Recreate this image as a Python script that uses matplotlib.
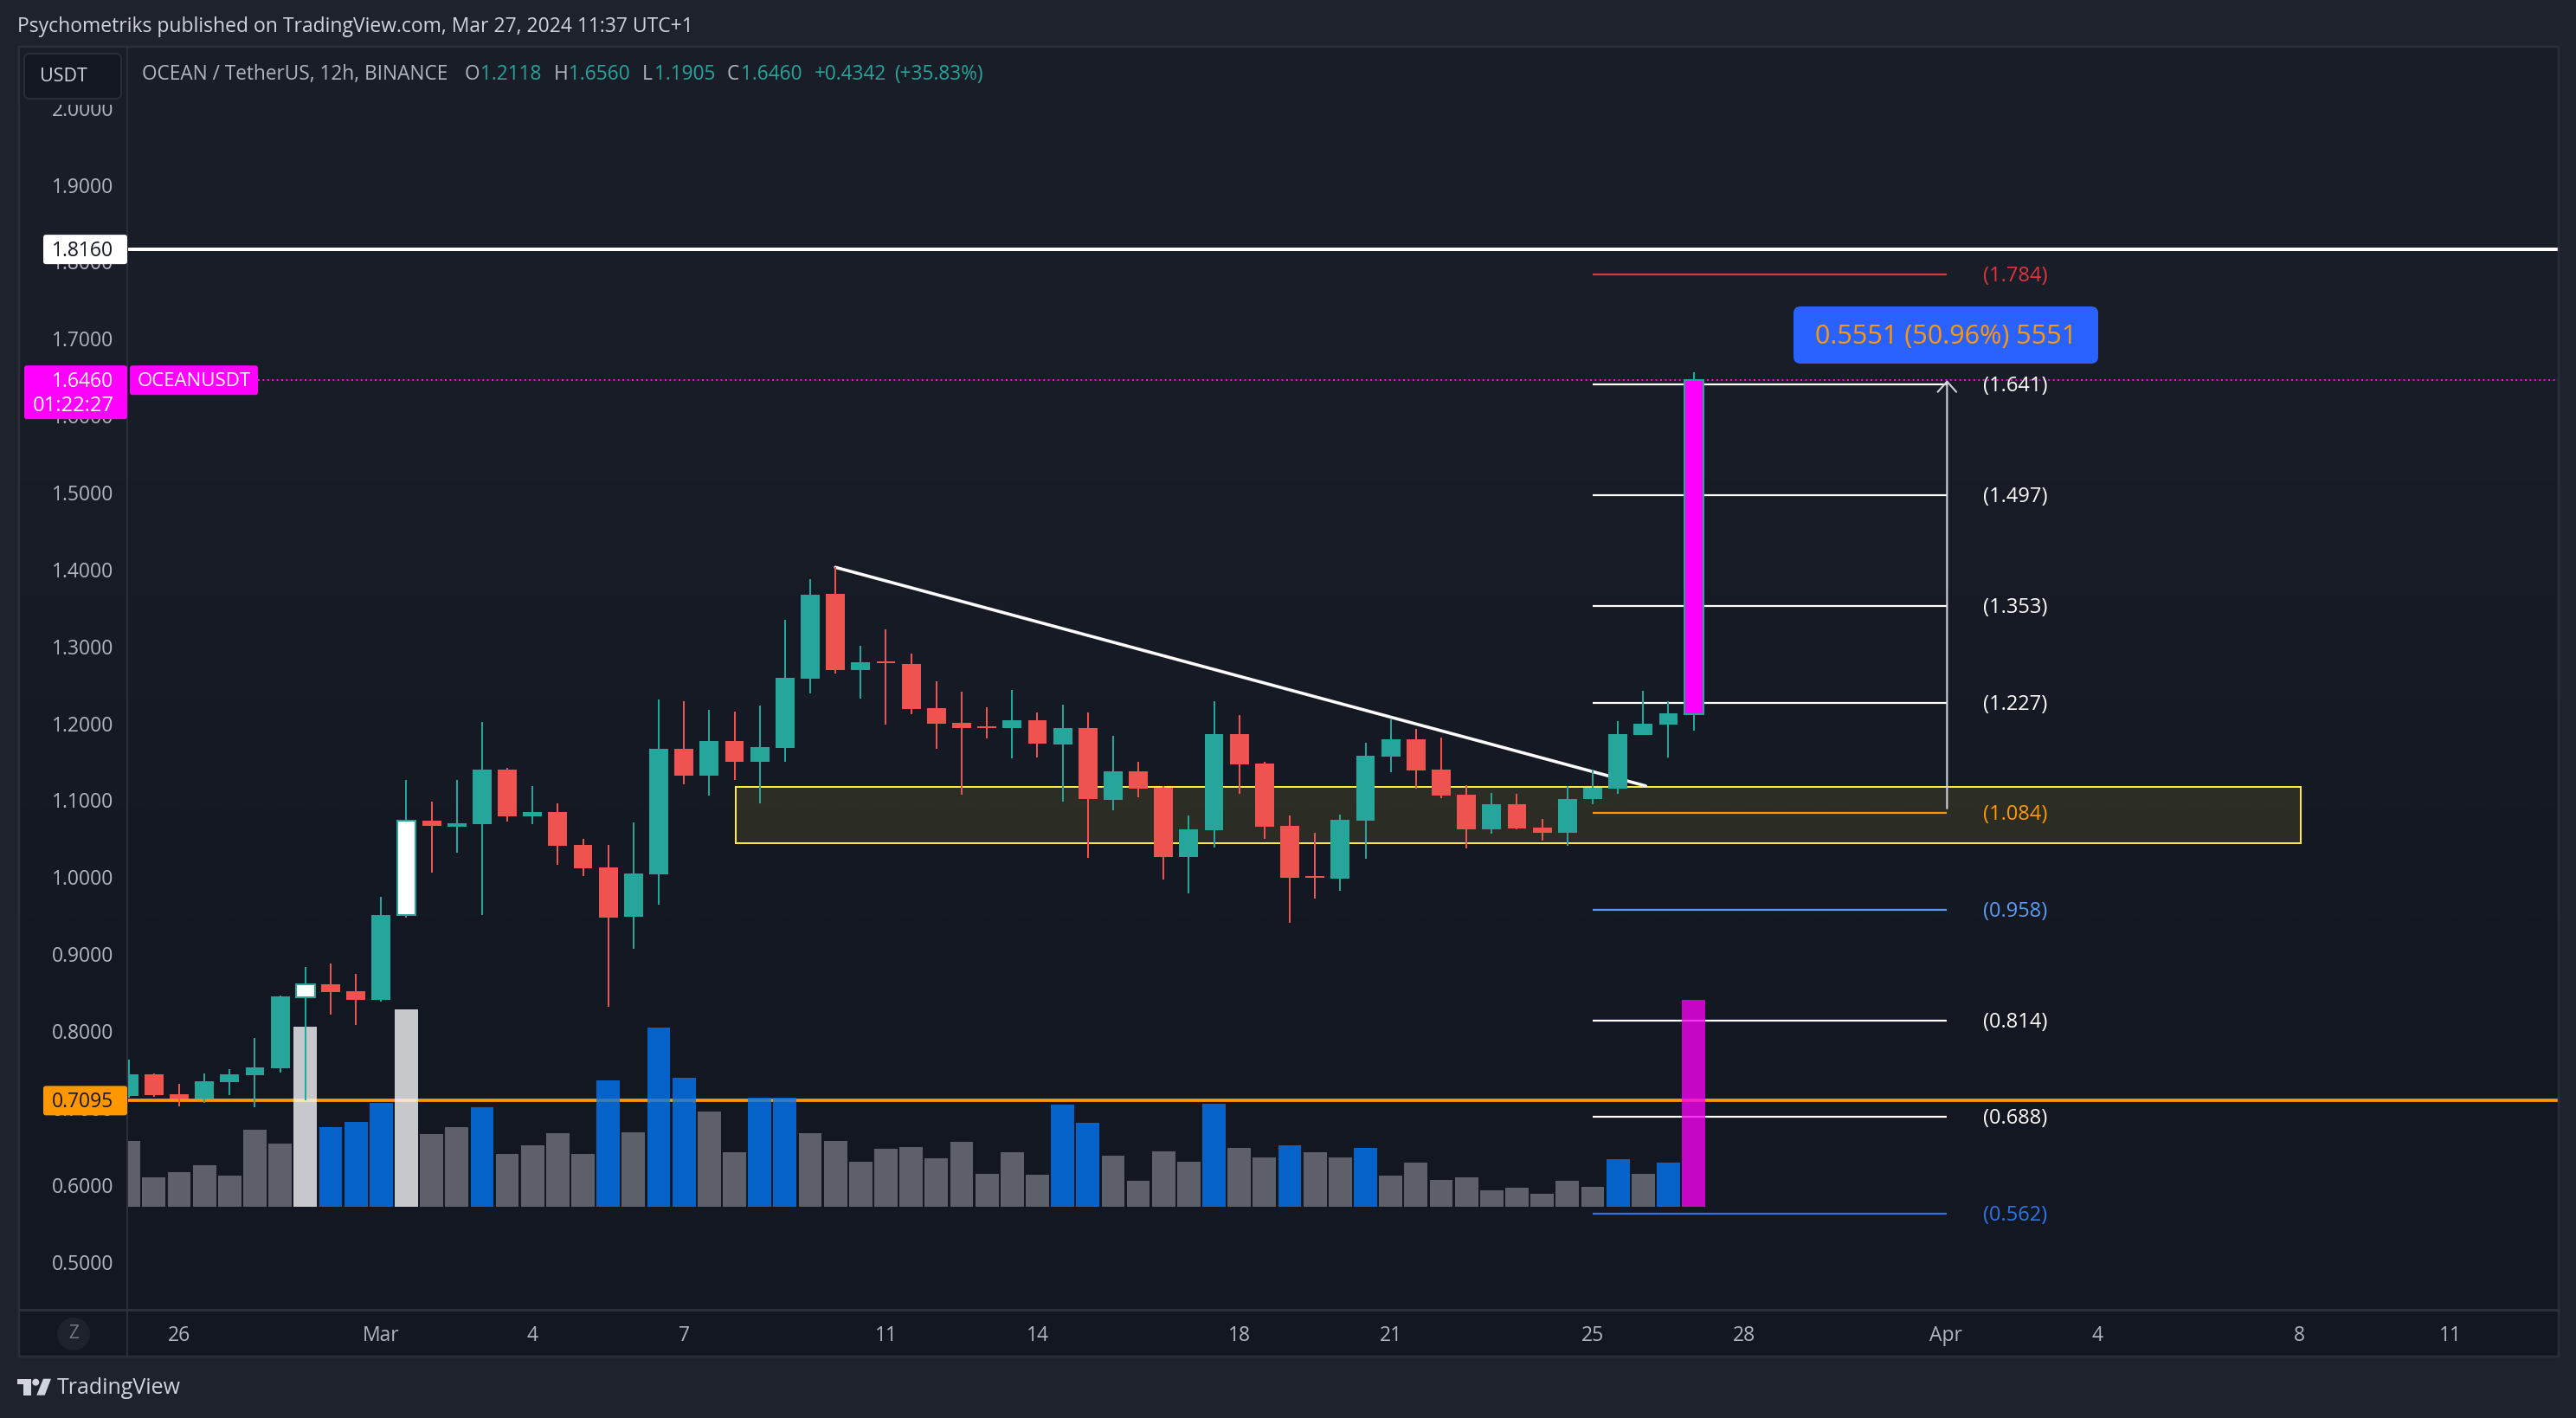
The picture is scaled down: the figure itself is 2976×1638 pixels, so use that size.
import numpy as np
import matplotlib
matplotlib.use("Agg")
import matplotlib.pyplot as plt
from matplotlib.patches import FancyBboxPatch, Rectangle, Polygon, Circle
from matplotlib.colors import LinearSegmentedColormap

plt.rcParams['font.family'] = ['Open Sans', 'DejaVu Sans']

# ---------- data (bar index 0 = 26 Feb 2024, 12h bars) ----------
bar_index = list(range(-2, 61))
opens = [.7154,.7436,.7178,.7120,.7336,.7425,.7514,.8437,.8606,.8518,.8406,.9504,1.0734,1.0656,1.0689,1.1398,1.0790,
         1.0847,1.0419,1.0127,.9485,1.0037,1.1668,1.1319,1.1770,1.1500,1.1680,1.2580,1.3683,1.2692,1.2805,1.2771,1.2197,
         1.2006,1.1961,1.1938,1.2040,1.1725,1.1938,1.1004,1.1376,1.1162,1.0262,1.0611,1.1860,1.1477,1.0667,1.0014,.9980,
         1.0734,1.1567,1.1792,1.1397,1.1070,1.0622,1.0949,1.0643,1.0575,1.1014,1.1152,1.1849,1.1983,1.2118]
highs = [.7629,.7448,.7313,.7448,.7506,.7907,.8460,.8830,.8877,.8742,.9744,1.1263,1.0982,1.1263,1.2017,1.1421,1.1184,
         1.0959,1.0498,1.0419,1.0712,1.2310,1.2287,1.2175,1.2152,1.2231,1.3345,1.3874,1.4028,1.3007,1.3221,1.2906,1.2546,
         1.2411,1.2208,1.2433,1.2141,1.2242,1.2141,1.1837,1.1500,1.1184,1.0802,1.2287,1.2107,1.1500,1.0802,1.0577,1.0813,
         1.1747,1.2051,1.1927,1.1819,1.1195,1.1096,1.1083,1.0755,1.1182,1.1393,1.2026,1.2422,1.2288,1.6560]
lows = [.7131,.7143,.7019,.7066,.7166,.7008,.7459,.7100,.8213,.8077,.8382,.9478,1.0063,1.0322,.9511,1.0723,1.0689,
        1.0160,1.0014,.8317,.9069,.9643,1.1207,1.1060,1.1263,1.0959,1.1500,1.2388,1.2647,1.2321,1.1983,1.2118,1.1668,
        1.1072,1.1803,1.1544,1.1556,1.0982,1.0250,1.0869,1.1038,.9969,.9789,1.0385,1.1083,1.0498,.9406,.9721,.9823,
        1.0239,1.1365,1.1151,1.1027,1.0372,1.0566,1.0622,1.0475,1.0411,1.0949,1.1083,1.1849,1.1557,1.1905]
closes = [.7436,.7166,.7120,.7347,.7436,.7525,.8448,.8606,.8506,.8406,.9508,1.0731,1.0670,1.0701,1.1398,1.0790,1.0847,
          1.0408,1.0115,.9474,1.0048,1.1668,1.1319,1.1770,1.1500,1.1691,1.2591,1.3671,1.2692,1.2794,1.2782,1.2186,1.1995,
          1.1938,1.1938,1.2040,1.1736,1.1938,1.1016,1.1376,1.1151,1.0262,1.0622,1.1860,1.1466,1.0656,.9991,.9991,1.0745,
          1.1578,1.1792,1.1387,1.1061,1.0622,1.0949,1.0630,1.0575,1.1014,1.1160,1.1858,1.1996,1.2129,1.6460]
special_bodies = {5: '#ffffff', 9: '#ffffff', 60: '#ff00ff'}

volumes = [76.2,34.0,40.2,48.0,36.0,89.2,73.1,208.0,92.0,98.1,120.1,228.2,84.1,92.0,115.0,61.1,71.0,85.1,61.1,146.2,
           86.1,206.9,148.9,110.2,63.1,126.0,126.0,85.1,76.2,52.2,66.9,69.0,55.9,75.2,38.1,63.1,37.1,118.1,97.1,59.0,
           30.2,64.2,52.2,119.1,67.9,57.0,71.0,63.1,57.0,67.9,36.0,51.1,30.9,34.0,19.2,22.0,15.1,30.2,23.0,54.9,38.1,51.1,239.2]
volume_white = [5, 9]
volume_blue = [6, 7, 8, 12, 17, 19, 20, 23, 24, 35, 36, 41, 44, 47, 57, 59]
volume_magenta = [60]
VOL_BASE = 0.5715
VOL_SCALE = 1 / 888.6

price_ticks = [2.0, 1.9, 1.8, 1.7, 1.6, 1.5, 1.4, 1.3, 1.2, 1.1, 1.0, 0.9, 0.8, 0.7, 0.6, 0.5]
date_pos = [0, 8, 14, 20, 28, 34, 42, 48, 56, 62, 70, 76, 84, 90]
date_labels = ['26', 'Mar', '4', '7', '11', '14', '18', '21', '25', '28', 'Apr', '4', '8', '11']

fib_levels = [1.784, 1.641, 1.497, 1.353, 1.227, 1.084, 0.958, 0.814, 0.688, 0.562]
fib_colors = ['#e0343f', '#ffffff', '#ffffff', '#ffffff', '#ffffff', '#ff9800', '#5b9cf6', '#ffffff', '#ffffff', '#2f75e8']
fib_x = (56, 70.04)
fib_label_x = 72.74

resistance = 1.8160
support = 0.7095
last_close = 1.6460
zone_x = (22.04, 84.05)
zone_y = (1.0445, 1.1177)
trend_x = [26, 58.1]
trend_y = [1.4028, 1.1186]
measure_x = 70.04
measure_y = (1.0893, 1.6460)

# ---------- layout ----------
W, H = 2976, 1638
DPI = 100
PX_PER_UNIT = 888.6
BAR_PX = 29.16
def py(p):
    return 213.5 + (1.9 - p) * PX_PER_UNIT
def pr(y):
    return 1.9 - (y - 213.5) / PX_PER_UNIT
def ix(x):
    return (x - 207) / BAR_PX

L, R, T, B = 148, 2955, 55, 1513
PANEL = '#1e222d'
BORDER = '#2a2e39'
TEAL = '#26a69a'
RED = '#ef5350'
px = 72 / DPI

fig = plt.figure(figsize=(W / DPI, H / DPI), dpi=DPI, facecolor=PANEL)

# gradient background
bg = fig.add_axes([21 / W, 1 - 1568 / H, (2957 - 21) / W, (1568 - 53) / H], zorder=0)
cm = LinearSegmentedColormap.from_list('tvbg', ['#191d28', '#131722'])
bg.imshow(np.array([[0.0], [1.0]]), cmap=cm, aspect='auto', interpolation='bilinear', extent=(0, 1, 0, 1))
bg.axis('off')

# main chart
ax = fig.add_axes([L / W, 1 - B / H, (R - L) / W, (B - T) / H], zorder=1)
ax.patch.set_alpha(0)
ax.set_xlim(ix(L), ix(R))
ax.set_ylim(pr(B), pr(T))
for s in ax.spines.values():
    s.set_visible(False)
ax.set_yticks(price_ticks)
ax.set_yticklabels([f'{v:.4f}' for v in price_ticks])
ax.set_xticks(date_pos)
ax.set_xticklabels(date_labels)
ax.tick_params(axis='y', length=0, pad=16.4 * px, labelsize=16.5, labelcolor='#b2b5be')
ax.tick_params(axis='x', length=0, pad=18 * px, labelsize=16.5, labelcolor='#b2b5be')

# zone
ax.add_patch(Rectangle((zone_x[0], zone_y[0]), zone_x[1] - zone_x[0], zone_y[1] - zone_y[0],
                       facecolor=(1, 0.92, 0.23, 0.10), edgecolor='#ffeb3b', lw=2 * px, zorder=1))

# horizontal levels
ax.axhline(resistance, color='#ffffff', lw=4 * px, zorder=2)
ax.axhline(support, color='#ff9800', lw=3.8 * px, zorder=2)
ax.plot([ix(298), ix(R)], [last_close, last_close], color='#ff00ff', lw=2 * px,
        ls=(0, (1, 1.7)), zorder=2)

# trend line
ax.plot(trend_x, trend_y, color='#ffffff', lw=3.6 * px, zorder=2, solid_capstyle='round')

# fibonacci levels
for lv, c in zip(fib_levels, fib_colors):
    ax.plot(fib_x, [lv, lv], color=c, lw=2.2 * px, zorder=2, solid_capstyle='butt')
    ax.annotate(f'({lv:.3f})', (fib_label_x, lv), xytext=(0, -2 * px), textcoords='offset points',
                color=c, fontsize=17, ha='center', va='center', zorder=6)

# measure arrow
ax.annotate('', xy=(measure_x, measure_y[1]), xytext=(measure_x, measure_y[0]), zorder=2,
            arrowprops=dict(arrowstyle='->,head_length=1,head_width=0.9', mutation_scale=8.6,
                            color='#d1d4dc', lw=1.5, shrinkA=0, shrinkB=0))

# volume
vx = np.array(bar_index)
vol_colors = []
for i in bar_index:
    if i in volume_white:
        vol_colors.append('#f5f5f6')
    elif i in volume_blue:
        vol_colors.append('#0276f3')
    elif i in volume_magenta:
        vol_colors.append('#f304ef')
    else:
        vol_colors.append('#70727d')
ax.bar(vx, np.array(volumes) * VOL_SCALE, bottom=VOL_BASE, width=0.92, color=vol_colors, alpha=0.8, lw=0, zorder=3)

# candles
o, h, l, c = map(np.array, (opens, highs, lows, closes))
colors = [TEAL if a >= b else RED for a, b in zip(c, o)]
ax.vlines(vx, l, h, colors=colors, lw=2 * px, zorder=4)
fills = [special_bodies.get(i, col) for i, col in zip(bar_index, colors)]
tops = np.maximum(o, c)
bots = np.minimum(o, c)
lws = [2 * px if i in special_bodies else 0 for i in bar_index]
ax.bar(vx, tops - bots, bottom=bots, width=0.75, color=fills, edgecolor=colors, linewidth=lws, zorder=5)

# ---------- chrome ----------
ch = fig.add_axes([0, 0, 1, 1], zorder=2)
ch.set_xlim(0, W)
ch.set_ylim(H, 0)
ch.axis('off')
ch.patch.set_alpha(0)

def box(x0, y0, x1, y1, fc, ec='none', r=3, lw=0, z=3):
    ch.add_patch(FancyBboxPatch((x0, y0), x1 - x0, y1 - y0, boxstyle=f'round,pad=0,rounding_size={r}',
                                fc=fc, ec=ec, lw=lw, zorder=z, mutation_aspect=1))

# frame
ch.add_patch(Rectangle((22, 54), 2934, 1513, fc='none', ec=BORDER, lw=2.5 * px, zorder=2))
ch.plot([147, 147], [55, 1567], color=BORDER, lw=2 * px, zorder=2)
ch.plot([22, 2956], [1513, 1513], color=BORDER, lw=3 * px, zorder=2)
# cover above axis
ch.add_patch(Rectangle((23, 56), 123, 65, fc='#191d28', ec='none', zorder=2.5))

# USDT button
box(28, 62, 140, 114, '#131722', BORDER, r=6, lw=2 * px)
ch.text(46, 88, 'USDT', color='#d1d4dc', fontsize=15.5, ha='left', va='center', zorder=4)

# header
ch.text(20, 31, 'Psychometriks published on TradingView.com, Mar 27, 2024 11:37 UTC+1', color='#d1d4dc',
        fontsize=16.45, ha='left', va='center')
GREY = '#b2b5be'
legend_items = [(164.5, 'OCEAN / TetherUS, 12h, BINANCE', GREY), (537, 'O', GREY), (555, '1.2118', TEAL),
                (640, 'H', GREY), (657, '1.6560', TEAL), (742, 'L', GREY), (756, '1.1905', TEAL),
                (839.5, 'C', GREY), (855.6, '1.6460', TEAL), (941, '+0.4342', TEAL), (1033, '(+35.83%)', TEAL)]
for x, s, col in legend_items:
    ch.text(x, 86, s, color=col, fontsize=16.3, ha='left', va='center')

# price tags
def tag(y0, y1, x0, fc, lines):
    box(x0, y0, 147, y1, fc)
    for yy, s, col in lines:
        ch.text(131.5, yy + 2, s, color=col, fontsize=16.5, ha='right', va='center', zorder=4)

tag(py(resistance) - 17, py(resistance) + 17, 50, '#ffffff', [(py(resistance), f'{resistance:.4f}', '#131722')])
tag(py(support) - 17, py(support) + 17, 50, '#ff9800', [(py(support), f'{support:.4f}', '#131722')])
tag(py(last_close) - 17, py(last_close) + 45, 28, '#ff00ff',
    [(py(last_close), f'{last_close:.4f}', '#ffffff')])
ch.text(131.5, py(last_close) + 30, '01:22:27', color='#ffffff', fontsize=17.2, ha='right', va='center', zorder=4)
box(150, py(last_close) - 17, 298, py(last_close) + 17, '#ff00ff')
ch.text(224, py(last_close) + 1, 'OCEANUSDT', color='#ffffff', fontsize=16, ha='center', va='center', zorder=4)

# measure label
box(2072, 354, 2424, 420, '#2962ff', r=8)
ch.text(2248, 389, '0.5551 (50.96%) 5551', color='#ff9800', fontsize=22, ha='center', va='center', zorder=4)

# zoom button
ch.add_patch(Circle((85, 1541), 19, fc='#1e222d', ec='none', zorder=3))
ch.text(85, 1541, 'Z', color='#787b86', fontsize=15, ha='center', va='center', zorder=4)

# logo
LOGO = '#d1d4dc'
ch.add_patch(Polygon([(20, 1592.7), (35.7, 1592.7), (35.7, 1611.7), (26.7, 1611.7), (26.7, 1599), (20, 1599)],
                     fc=LOGO, ec='none'))
ch.add_patch(Circle((41.3, 1596.7), 4, fc=LOGO, ec='none'))
ch.add_patch(Polygon([(50, 1592.7), (59, 1592.7), (51.7, 1611.7), (42.3, 1611.7)], fc=LOGO, ec='none'))
ch.text(66, 1603, 'TradingView', color=LOGO, fontsize=18, ha='left', va='center')

fig.savefig('out.png', dpi=DPI, facecolor=PANEL)
